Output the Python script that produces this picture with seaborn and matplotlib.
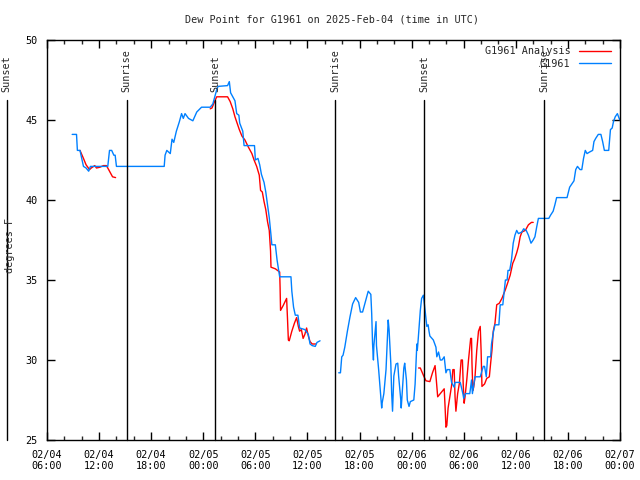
import numpy as np
import pandas as pd
import matplotlib
matplotlib.use("Agg")
import matplotlib.pyplot as plt
import matplotlib.dates as mdates
import seaborn as sns
from matplotlib.lines import Line2D

# ---------------- data (hours after 2025-02-04 06:00 UTC, degrees F) ----------------
BASE = "2025-02-04 06:00"

blue1_h = [2.9, 3.4, 3.5, 3.8, 4.2, 4.5, 4.8, 5.0, 7.0, 7.2, 7.45, 7.7, 7.85, 8.0, 13.5, 13.6, 13.8, 14.2,
           14.4, 14.6, 14.9, 15.25, 15.5, 15.7, 15.9, 16.3, 16.8, 17.25, 17.8, 18.8, 19.1, 19.35, 19.55,
           19.7, 20.8, 21.0, 21.15, 21.65, 21.85, 22.1, 22.2, 22.55, 22.7, 23.9, 24.0, 24.3, 24.5, 24.7,
           25.0, 25.2, 25.4, 25.6, 25.8, 25.9, 26.3, 26.5, 26.8, 28.1, 28.2, 28.4, 28.6, 28.9, 29.1, 29.7,
           30.1, 30.3, 30.55, 30.9, 31.1, 31.45]
blue1_v = [44.1, 44.1, 43.1, 43.1, 42.1, 42.0, 41.8, 42.1, 42.1, 43.1, 43.1, 42.8, 42.8, 42.1, 42.1, 42.8, 43.1, 42.9,
           43.8, 43.6, 44.3, 44.9, 45.4, 45.1, 45.4, 45.1, 44.95, 45.5, 45.8, 45.8, 46.0, 46.5, 46.9,
           47.1, 47.15, 47.4, 46.7, 46.2, 45.4, 45.3, 44.8, 44.3, 43.4, 43.4, 42.5, 42.6, 42.2, 41.6,
           41.1, 40.5, 39.7, 38.9, 37.8, 37.2, 37.2, 36.25, 35.2, 35.2, 34.3, 33.3, 32.8, 32.8, 32.0, 31.9,
           31.6, 31.0, 30.9, 30.85, 31.1, 31.2]

blue2_h = [33.6, 33.8, 33.95, 34.1, 34.3, 34.6, 34.9, 35.2, 35.55, 35.9, 36.1, 36.35, 36.6, 37.0, 37.3, 37.4,
           37.5, 37.6, 37.65, 37.9, 37.95, 38.2, 38.35, 38.55, 38.6, 38.8, 39.05, 39.3, 39.4, 39.6, 39.7,
           39.8, 39.95, 40.2, 40.4, 40.5, 40.75, 40.8, 40.95, 41.1, 41.2, 41.4, 41.5, 41.7, 41.85, 42.05,
           42.25, 42.4, 42.6, 42.65, 42.75, 43.0, 43.15, 43.35, 43.45, 43.55, 43.75, 43.9, 44.0, 44.1,
           44.5, 44.8, 44.9, 45.1, 45.3, 45.5, 45.75, 45.95, 46.1, 46.4, 46.6, 46.9, 47.0, 47.6, 47.9,
           48.0, 48.2, 48.7, 48.9, 49.0, 49.3, 49.9, 50.25, 50.4, 50.6, 50.75, 51.1, 51.2, 51.4, 51.6,
           52.05, 52.2, 52.5, 52.8, 53.0, 53.1, 53.3, 53.5, 53.7, 53.9, 54.1, 54.3, 54.7, 54.9, 55.2,
           55.45, 55.75, 56.0, 56.2, 56.4, 56.6, 57.8, 58.0, 58.3, 58.5, 58.7, 59.9, 60.2, 60.7, 60.9,
           61.1, 61.4, 61.6, 61.8, 62.0, 62.2, 62.5, 62.85, 63.0, 63.2, 63.5, 63.8, 64.0, 64.2, 64.7,
           64.9, 65.1, 65.25, 65.45, 65.7, 65.9, 66.0]
blue2_v = [29.2, 29.2, 30.2, 30.3, 30.8, 31.8, 32.7, 33.5, 33.9, 33.6, 33.0, 33.0, 33.5, 34.3, 34.1, 32.9,
           31.0, 30.0, 30.9, 32.4, 30.9, 29.4, 28.4, 27.0, 27.3, 27.9, 29.4, 32.5, 31.9, 29.8, 27.9,
           26.8, 29.0, 29.75, 29.8, 29.0, 27.5, 27.0, 28.2, 29.5, 29.8, 28.75, 27.5, 27.1, 27.4, 27.45,
           27.5, 28.5, 31.0, 30.6, 31.25, 33.1, 33.85, 34.05, 33.6, 33.1, 32.1, 32.2, 31.8, 31.5,
           31.25, 30.8, 30.2, 30.5, 30.0, 30.0, 30.2, 29.2, 29.4, 29.4, 28.6, 28.3, 28.6, 28.6, 27.9,
           27.6, 27.9, 27.9, 28.75, 27.9, 28.95, 28.95, 29.6, 29.6, 28.95, 30.2, 30.2, 31.0, 31.7, 32.2,
           32.2, 33.45, 33.45, 35.0, 35.0, 35.6, 35.6, 36.25, 37.3, 37.8, 38.1, 37.9, 38.0, 38.2, 38.1,
           37.8, 37.3, 37.5, 37.7, 38.3, 38.85, 38.85, 39.05, 39.3, 39.7, 40.15, 40.15, 40.8, 41.2, 41.9,
           42.1, 41.9, 41.9, 42.6, 43.1, 42.9, 43.0, 43.1, 43.65, 43.85, 44.1, 44.1, 43.65, 43.1, 43.1,
           44.4, 44.5, 44.9, 45.2, 45.4, 45.1, 45.0]

red1_h = [3.8, 4.2, 4.5, 4.9, 5.1, 5.5, 5.7, 6.1, 6.5, 6.85, 7.25, 7.55, 7.9]
red1_v = [43.1, 42.6, 42.2, 41.9, 42.0, 42.15, 42.0, 42.05, 42.15, 42.15, 41.75, 41.45, 41.4]

red2_h = [18.8, 19.0, 19.3, 19.55, 20.8, 21.1, 21.4, 21.65, 21.9, 22.15, 22.45, 22.8, 23.2, 23.6, 23.85,
          24.15, 24.45, 24.6, 24.8, 25.0, 25.2, 25.4, 25.6, 25.75, 25.8, 26.3, 26.8, 26.85, 26.9, 27.2,
          27.6, 27.7, 27.8, 27.9, 28.2, 28.5, 28.75, 28.95, 29.1, 29.3, 29.5, 29.7, 29.9, 30.1, 30.3,
          30.55, 30.95]
red2_v = [45.7, 45.75, 46.15, 46.45, 46.45, 46.15, 45.7, 45.2, 44.8, 44.4, 44.0, 43.75, 43.3, 42.9, 42.5,
          42.1, 41.55, 40.6, 40.5, 39.9, 39.4, 38.65, 38.1, 36.8, 35.8, 35.7, 35.5, 34.5, 33.1, 33.4,
          33.85, 32.6, 31.25, 31.2, 31.8, 32.3, 32.65, 32.1, 31.8, 31.9, 31.35, 31.6, 32.0, 31.5, 31.15,
          31.0, 31.0]

red3_h = [42.8, 43.0, 43.35, 43.65, 44.1, 44.4, 44.7, 44.85, 45.0, 45.3, 45.75, 45.85, 45.95, 46.05, 46.2,
          46.4, 46.6, 46.75, 46.9, 47.0, 47.1, 47.3, 47.5, 47.7, 47.85, 47.95, 48.05, 48.15, 48.35, 48.55,
          48.8, 48.9, 48.95, 49.05, 49.15, 49.3, 49.5, 49.7, 49.9, 50.0, 50.1, 50.4, 50.65, 50.95, 51.1,
          51.25, 51.4, 51.6, 51.8, 52.1, 52.4, 52.8, 53.05, 53.35, 53.65, 53.85, 54.1, 54.3, 54.5, 54.7,
          55.1, 55.45, 55.8, 56.0]
red3_v = [29.5, 29.5, 29.05, 28.7, 28.65, 29.2, 29.65, 28.7, 27.7, 27.9, 28.2, 27.1, 25.8, 25.9, 27.0,
          27.7, 28.4, 29.4, 29.4, 27.7, 26.8, 27.9, 28.55, 30.0, 30.0, 28.35, 27.3, 27.7, 28.75, 30.0,
          31.35, 31.35, 29.8, 28.1, 28.3, 28.95, 30.6, 31.8, 32.1, 30.6, 28.35, 28.5, 28.85, 28.95, 29.8,
          30.6, 31.8, 32.3, 33.45, 33.55, 33.85, 34.4, 34.8, 35.3, 36.05, 36.3, 36.7, 37.1, 37.7, 38.0,
          38.1, 38.45, 38.6, 38.6]

sun_times = ["2025-02-04 01:22", "2025-02-04 15:11", "2025-02-05 01:24",
             "2025-02-05 15:12", "2025-02-06 01:26", "2025-02-06 15:18"]
sun_labels = ["Sunset", "Sunrise", "Sunset", "Sunrise", "Sunset", "Sunrise"]

series_names = ["G1961 Analysis", "G1961"]
series_colors = ["#ff0000", "#0080ff"]

# ---------------- build table ----------------
base = pd.Timestamp(BASE)
frames = []
for name, segs in [("G1961 Analysis", [(red1_h, red1_v), (red2_h, red2_v), (red3_h, red3_v)]),
                   ("G1961", [(blue1_h, blue1_v), (blue2_h, blue2_v)])]:
    for i, (h, v) in enumerate(segs):
        frames.append(pd.DataFrame({
            "time": base + pd.to_timedelta(np.array(h), unit="h"),
            "dewpoint": v,
            "series": name,
            "seg": f"{name}-{i}",
        }))
df = pd.concat(frames, ignore_index=True)

# ---------------- plot ----------------
sns.set_style("ticks")
plt.rcParams["font.family"] = ["DejaVu Sans Mono"]
plt.rcParams["font.size"] = 7.3

fig = plt.figure(figsize=(6.4, 4.8), dpi=100)
ax = fig.add_axes([47 / 640, 40 / 480, 573 / 640, 400 / 480])

for name, col in zip(series_names, series_colors):
    sub = df[df["series"] == name]
    sns.lineplot(data=sub, x="time", y="dewpoint", units="seg", estimator=None,
                 color=col, linewidth=1.0, legend=False, ax=ax, sort=False)

ax.set_xlim(base, base + pd.Timedelta(hours=66))
ax.set_ylim(25, 50)
ax.set_yticks([25, 30, 35, 40, 45, 50])

ax.xaxis.set_major_locator(mdates.HourLocator(byhour=[0, 6, 12, 18]))
ax.xaxis.set_minor_locator(mdates.HourLocator(interval=2))
ax.xaxis.set_major_formatter(mdates.DateFormatter("%m/%d\n%H:%M"))
ax.tick_params(which="major", direction="in", length=6, width=1, top=True, right=True,
               colors="black", labelsize=7.3, pad=7)
ax.tick_params(which="minor", direction="in", length=3, width=1, top=True, right=True)
ax.set_xlabel("")
ax.set_ylabel("")
for s in ax.spines.values():
    s.set_visible(True)
    s.set_color("black")
    s.set_linewidth(1)

# Sunrise / sunset markers
xt = ax.get_xaxis_transform()
for t, lab in zip(sun_times, sun_labels):
    tt = pd.Timestamp(t)
    ax.plot([tt, tt], [0, 0.85], transform=xt, color="black", lw=1, clip_on=False)
    ax.text(tt, 0.87, lab, rotation=90, ha="center", va="bottom", transform=xt,
            clip_on=False, fontsize=7.3)

# legend
handles = [Line2D([0], [0], color=c, lw=1) for c in series_colors]
ax.legend(handles, series_names, loc="upper right", frameon=False, markerfirst=False,
          handlelength=3.2, handletextpad=0.8, borderaxespad=0.2, labelspacing=0.25,
          fontsize=7.3, bbox_to_anchor=(0.995, 1.0))

fig.text(332 / 640, 1 - 19 / 480, "Dew Point for G1961 on 2025-Feb-04 (time in UTC)",
         ha="center", va="center", fontsize=7.3)
fig.text(10 / 640, 1 - 245 / 480, "degrees F", rotation=90, ha="center", va="center",
         fontsize=7.3)

fig.savefig("out.png", dpi=100)
